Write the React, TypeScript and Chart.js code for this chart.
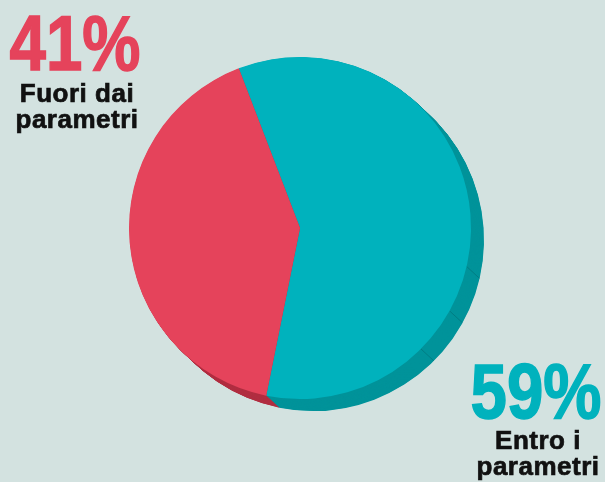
import React, { useEffect, useRef } from 'react';
import { Chart, registerables } from 'chart.js';

Chart.register(...registerables);

// ---- data ----
const categories = ['Entro i parametri', 'Fuori dai parametri'];
const values = [59, 41];
const labelLines = [['Entro i', 'parametri'], ['Fuori dai', 'parametri']];

// ---- style ----
const topColors = ['#00b2bd', '#e5435b'];
const sideColors = ['#00939a', '#b12f42'];
const BG = '#d3e2e0';
const DEPTH_X = 13;
const DEPTH_Y = 12;
const FACET_ANGLES = [103, 119, 135];

const extrudePlugin = {
  id: 'extrude3d',
  beforeDatasetsDraw(chart: any) {
    const meta = chart.getDatasetMeta(0);
    const ctx = chart.ctx;
    const N = 30;
    ctx.save();
    for (let s = N; s >= 1; s--) {
      const ox = (DEPTH_X * s) / N;
      const oy = (DEPTH_Y * s) / N;
      meta.data.forEach((arc: any, i: number) => {
        const p = arc.getProps(['x', 'y', 'startAngle', 'endAngle', 'outerRadius'], true);
        ctx.beginPath();
        ctx.moveTo(p.x + ox, p.y + oy);
        ctx.arc(p.x + ox, p.y + oy, p.outerRadius, p.startAngle, p.endAngle);
        ctx.closePath();
        ctx.fillStyle = sideColors[i];
        ctx.fill();
      });
    }
    const a0 = meta.data[0];
    if (a0) {
      const p = a0.getProps(['x', 'y', 'outerRadius'], true);
      ctx.strokeStyle = 'rgba(0,60,64,0.25)';
      ctx.lineWidth = 1;
      FACET_ANGLES.forEach((deg) => {
        const r = ((deg - 90) * Math.PI) / 180;
        const sx = p.x + p.outerRadius * Math.cos(r);
        const sy = p.y + p.outerRadius * Math.sin(r);
        ctx.beginPath();
        ctx.moveTo(sx, sy);
        ctx.lineTo(sx + DEPTH_X, sy + DEPTH_Y);
        ctx.stroke();
      });
    }
    ctx.restore();
  },
};

const pctFont = '"Liberation Sans", Arial, sans-serif';
const labelFont = '"Liberation Sans", Arial, sans-serif';

export default function App() {
  const ref = useRef<HTMLCanvasElement | null>(null);

  useEffect(() => {
    if (!ref.current) return;
    const chart = new Chart(ref.current, {
      type: 'pie',
      data: {
        labels: categories,
        datasets: [
          {
            data: values,
            backgroundColor: topColors,
            borderWidth: 0,
            hoverOffset: 0,
            offset: 0,
          } as any,
        ],
      },
      options: {
        responsive: false,
        animation: false,
        rotation: -21,
        layout: { padding: { left: 129, right: 134, top: 57, bottom: 83 } },
        plugins: {
          legend: { display: false },
          tooltip: { enabled: false },
        },
        events: [],
      } as any,
      plugins: [extrudePlugin],
    });
    return () => chart.destroy();
  }, []);

  const pctStyle = (color: string): React.CSSProperties => ({
    position: 'absolute',
    width: 200,
    textAlign: 'center',
    fontFamily: pctFont,
    fontWeight: 700,
    fontSize: 77,
    lineHeight: '77px',
    color,
    whiteSpace: 'nowrap',
    transform: 'scaleX(0.85)',
    transformOrigin: 'center',
    WebkitTextStroke: `1.5px ${color}`,
  });
  const lblStyle: React.CSSProperties = {
    position: 'absolute',
    width: 200,
    textAlign: 'center',
    fontFamily: labelFont,
    fontWeight: 700,
    fontSize: 26,
    lineHeight: '26px',
    letterSpacing: 0.5,
    color: '#111',
    whiteSpace: 'nowrap',
    WebkitTextStroke: '0.7px #111',
  };

  return (
    <div
      style={{
        position: 'fixed',
        left: 0,
        top: 0,
        width: 605,
        height: 482,
        background: BG,
        overflow: 'hidden',
      }}
    >
      <canvas ref={ref} width={605} height={482} style={{ position: 'absolute', left: 0, top: 0 }} />
      <div style={{ ...pctStyle(topColors[1]), left: 75 - 100, top: 5 }}>{values[1]}%</div>
      <div style={{ ...lblStyle, left: 77 - 100, top: 80 }}>
        {labelLines[1].map((l, i) => (
          <div key={i}>{l}</div>
        ))}
      </div>
      <div style={{ ...pctStyle(topColors[0]), left: 536 - 100, top: 353 }}>{values[0]}%</div>
      <div style={{ ...lblStyle, left: 538 - 100, top: 427 }}>
        {labelLines[0].map((l, i) => (
          <div key={i}>{l}</div>
        ))}
      </div>
    </div>
  );
}
